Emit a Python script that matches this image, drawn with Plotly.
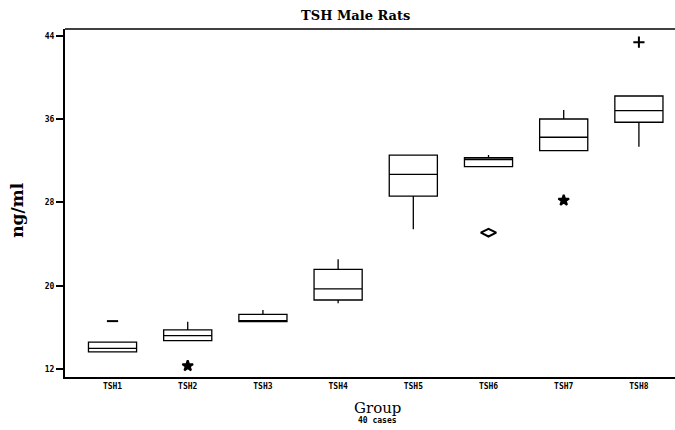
import plotly.graph_objects as go

# Group labels and box summary statistics (ng/ml)
groups = ["TSH1", "TSH2", "TSH3", "TSH4", "TSH5", "TSH6", "TSH7", "TSH8"]
q1 = [13.64, 14.72, 16.55, 18.63, 28.62, 31.44, 32.98, 35.71]
median = [13.99, 15.20, 16.64, 19.69, 30.71, 32.13, 34.27, 36.82]
q3 = [14.59, 15.75, 17.25, 21.58, 32.56, 32.30, 36.02, 38.23]
lower_fence = [13.64, 14.72, 16.55, 18.31, 25.42, 31.44, 32.98, 33.36]
upper_fence = [14.59, 16.55, 17.67, 22.54, 32.60, 32.56, 36.89, 38.23]

# Outlying observations drawn individually
out_group = ["TSH1", "TSH2", "TSH6", "TSH7", "TSH8"]
out_value = [16.6, 12.3, 25.1, 28.2, 43.4]
out_symbol = ["line-ew-open", "star", "diamond-wide-open", "star", "cross-thin-open"]

y_ticks = [12, 20, 28, 36, 44]

fig = go.Figure()
fig.add_trace(go.Box(
    x=groups, q1=q1, median=median, q3=q3,
    lowerfence=lower_fence, upperfence=upper_fence,
    boxpoints=False, whiskerwidth=0, width=0.64,
    fillcolor="rgba(0,0,0,0)",
    line=dict(color="black", width=1.3),
    showlegend=False, hoverinfo="skip",
))
fig.add_trace(go.Scatter(
    x=out_group, y=out_value, mode="markers",
    marker=dict(symbol=out_symbol, size=[8, 8, 11, 8, 8], color="black", opacity=1,
                line=dict(color="black", width=2)),
    showlegend=False, hoverinfo="skip",
))

tick_font = dict(family="DejaVu Sans Mono", size=8, color="black", weight="bold")

fig.update_layout(
    width=675, height=430,
    margin=dict(l=65, r=0, t=29, b=53),
    paper_bgcolor="white", plot_bgcolor="white",
    title=dict(text="TSH Male Rats", x=0.527, xref="container", xanchor="center",
               y=1 - 15 / 430, yref="container", yanchor="middle",
               font=dict(family="DejaVu Serif", size=13, color="black", weight="bold")),
    xaxis=dict(type="category", categoryorder="array", categoryarray=groups,
               range=[-0.632, 7.48], showline=True, linecolor="black", linewidth=2,
               showgrid=False, zeroline=False, ticks="",
               tickfont=tick_font),
    yaxis=dict(range=[11.23, 44.67], tickvals=y_ticks, ticktext=[str(v) for v in y_ticks],
               showline=True, linecolor="black", linewidth=2, showgrid=False,
               zeroline=False, ticks="outside", ticklen=7, tickwidth=1.5,
               tickcolor="black", tickfont=tick_font),
    shapes=[
        # frame line along the top of the plotting area
        dict(type="line", xref="paper", yref="paper", x0=0, x1=1, y0=1, y1=1,
             line=dict(color="black", width=1.5)),
    ],
    annotations=[
        dict(text="ng/ml", textangle=-90, xref="paper", yref="paper",
             x=-0.079, y=0.48, xanchor="center", yanchor="middle", showarrow=False,
             font=dict(family="DejaVu Serif", size=17, color="black", weight="bold")),
        dict(text="Group", xref="paper", yref="paper", x=0.513, y=-0.089,
             xanchor="center", yanchor="middle", showarrow=False,
             font=dict(family="DejaVu Serif", size=15, color="black")),
        dict(text="40 cases", xref="paper", yref="paper", x=0.513, y=-0.126,
             xanchor="center", yanchor="middle", showarrow=False,
             font=dict(family="DejaVu Sans Mono", size=8, color="black", weight="bold")),
    ],
)

fig.write_html("out.html")
